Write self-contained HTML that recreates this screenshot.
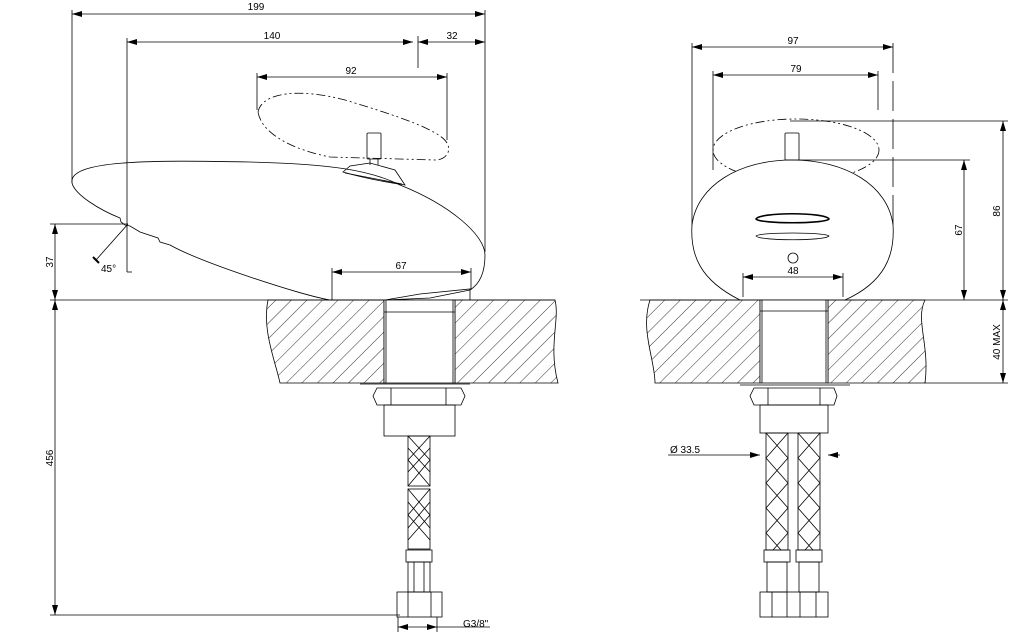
<!DOCTYPE html>
<html><head><meta charset="utf-8"><style>
html,body{margin:0;padding:0;background:#fff;}
svg{display:block;font-family:"Liberation Sans",sans-serif;}
text{font-size:10px;fill:#000;}
</style></head><body>
<svg width="1021" height="635" viewBox="0 0 1021 635" xmlns="http://www.w3.org/2000/svg">
<defs>
<pattern id="h" patternUnits="userSpaceOnUse" width="11" height="11" patternTransform="rotate(45)">
<line x1="0" y1="0" x2="0" y2="11" stroke="#000" stroke-width="0.8"/>
</pattern>
<marker id="a" viewBox="0 0 10 6" refX="10" refY="3" markerWidth="10" markerHeight="6" orient="auto-start-reverse" markerUnits="userSpaceOnUse"><path d="M0,0 L10,3 L0,6z" fill="#000"/></marker>
</defs>
<g stroke="#000" stroke-width="0.8" fill="none">
<!-- LEFT VIEW dims -->
<line x1="72" y1="14" x2="485" y2="14" marker-start="url(#a)" marker-end="url(#a)"/>
<line x1="72" y1="10" x2="72" y2="183"/>
<line x1="485" y1="10" x2="485" y2="252"/>
<line x1="127" y1="42" x2="413" y2="42" marker-start="url(#a)" marker-end="url(#a)"/>
<line x1="418" y1="42" x2="485" y2="42" marker-start="url(#a)" marker-end="url(#a)"/>
<line x1="418" y1="36" x2="418" y2="68"/>
<line x1="127" y1="38" x2="127" y2="272"/>
<line x1="127" y1="272" x2="132" y2="272"/>
<line x1="257" y1="77" x2="447" y2="77" marker-start="url(#a)" marker-end="url(#a)"/>
<line x1="257" y1="73" x2="257" y2="110"/>
<line x1="447" y1="73" x2="447" y2="140"/>
<path d="M258,112 C262,92 300,88 345,100 C395,115 440,130 447,143 C452,152 445,160 435,160 L330,157 C295,150 262,135 258,112Z" stroke-dasharray="9,3,2,3,2,3"/>
<!-- body -->
<path d="M72,183 C68,160 150,160 250,162 C330,164 370,170 400,185 C450,205 485,235 485,255 C485,275 478,285 470,290 L430,298 L385,300 L330,300 C300,295 200,262 170,245 L160,242 L158,238 L140,232 L130,226 L125,225 L121,222 L120,218 C100,210 75,195 72,183Z"/>
<path d="M343,172 L350,166 L370,163 L395,170 L405,185 C385,182 360,177 343,172Z"/>
<line x1="345" y1="173" x2="402" y2="184"/>
<rect x="367" y="133" width="14" height="26" rx="1"/>
<line x1="370" y1="159" x2="370" y2="165"/><line x1="378" y1="159" x2="378" y2="165"/>
<path d="M385,300 L420,294 L470,289 L470,300"/>
<line x1="55" y1="224" x2="55" y2="300" marker-start="url(#a)" marker-end="url(#a)"/>
<line x1="50" y1="224" x2="128" y2="224"/>
<line x1="128" y1="224" x2="96" y2="260"/>
<line x1="93" y1="257" x2="99" y2="263" stroke-width="2"/>
<line x1="332" y1="272" x2="471" y2="272" marker-start="url(#a)" marker-end="url(#a)"/>
<line x1="332" y1="268" x2="332" y2="300"/><line x1="471" y1="268" x2="471" y2="290"/>
<line x1="50" y1="300" x2="555" y2="300"/>
<line x1="55" y1="300" x2="55" y2="615" marker-start="url(#a)" marker-end="url(#a)"/>
<line x1="50" y1="615" x2="400" y2="615"/>
<!-- countertop left -->
<path d="M268,300 L384,300 L384,383 L280,383 C275,360 262,330 268,300Z" fill="url(#h)"/>
<path d="M455,300 L555,300 C560,320 548,345 558,383 L455,383Z" fill="url(#h)"/>
<rect x="384" y="300" width="71" height="83" fill="#fff"/>
<line x1="386" y1="300" x2="386" y2="383"/><line x1="453" y1="300" x2="453" y2="383"/>
<line x1="384" y1="312" x2="455" y2="312"/>
<line x1="360" y1="384" x2="470" y2="384"/>
<path d="M377,388 L461,388 L465,396 L461,405 L377,405 L373,396Z"/>
<line x1="391" y1="388" x2="391" y2="405"/><line x1="446" y1="388" x2="446" y2="405"/>
<rect x="384" y="405" width="71" height="31"/>
<g>
<rect x="408" y="436" width="22" height="50"/><rect x="408" y="489" width="22" height="60"/>
<path d="M408,436 L430,460 L408,486 M430,436 L408,460 L430,486 M408,448 L430,472 M430,448 L408,472 M408,489 L430,515 L408,540 M430,489 L408,515 L430,540 M408,502 L430,528 M430,502 L408,528"/>
</g>
<rect x="406" y="550" width="26" height="12"/>
<rect x="408" y="562" width="22" height="30"/>
<line x1="414" y1="562" x2="414" y2="592"/><line x1="424" y1="562" x2="424" y2="592"/>
<rect x="397" y="592" width="45" height="25"/>
<line x1="408" y1="592" x2="408" y2="617"/><line x1="431" y1="592" x2="431" y2="617"/>
<line x1="398" y1="617" x2="398" y2="632"/><line x1="437" y1="617" x2="437" y2="632"/>
<line x1="398" y1="627" x2="437" y2="627" marker-start="url(#a)" marker-end="url(#a)"/>
<line x1="437" y1="627" x2="490" y2="627"/>
<!-- RIGHT VIEW -->
<line x1="692" y1="47" x2="893" y2="47" marker-start="url(#a)" marker-end="url(#a)"/>
<line x1="692" y1="43" x2="692" y2="230"/>
<line x1="893" y1="43" x2="893" y2="230" stroke-dasharray="30,8"/>
<line x1="713" y1="75" x2="878" y2="75" marker-start="url(#a)" marker-end="url(#a)"/>
<line x1="713" y1="71" x2="713" y2="170"/><line x1="878" y1="71" x2="878" y2="110"/>
<ellipse cx="796" cy="150" rx="83" ry="31" stroke-dasharray="9,3,2,3,2,3"/>
<path d="M740,300 C700,280 690,255 692,225 C697,185 740,160 792,160 C845,160 888,185 893,225 C895,255 885,282 845,300" fill="#fff"/>
<rect x="785" y="133" width="14" height="27" rx="1"/>
<path d="M756,219 C760,212 825,212 829,219 C825,224 760,224 756,219Z" stroke-width="1.6"/>
<path d="M756,236 C760,232 825,232 829,236 C825,241 760,241 756,236Z"/>
<circle cx="793" cy="258" r="5"/>
<line x1="743" y1="277" x2="843" y2="277" marker-start="url(#a)" marker-end="url(#a)"/>
<line x1="743" y1="273" x2="743" y2="297"/><line x1="843" y1="273" x2="843" y2="297"/>
<line x1="799" y1="160" x2="970" y2="160"/>
<line x1="790" y1="121" x2="1008" y2="121"/>
<line x1="964" y1="160" x2="964" y2="300" marker-start="url(#a)" marker-end="url(#a)"/>
<line x1="1003" y1="121" x2="1003" y2="300" marker-start="url(#a)" marker-end="url(#a)"/>
<line x1="1003" y1="300" x2="1003" y2="383" marker-start="url(#a)" marker-end="url(#a)"/>
<line x1="640" y1="300" x2="1008" y2="300"/>
<line x1="925" y1="383" x2="1008" y2="383"/>
<path d="M650,300 L760,300 L760,383 L655,383 C655,360 640,330 650,300Z" fill="url(#h)"/>
<path d="M828,300 L925,300 C915,320 930,345 925,383 L828,383Z" fill="url(#h)"/>
<rect x="760" y="300" width="68" height="83" fill="#fff"/>
<line x1="762" y1="300" x2="762" y2="383"/><line x1="826" y1="300" x2="826" y2="383"/>
<line x1="760" y1="311" x2="828" y2="311"/>
<line x1="740" y1="385" x2="850" y2="385"/>
<path d="M754,388 L834,388 L837,396 L834,405 L754,405 L750,396Z"/>
<line x1="768" y1="388" x2="768" y2="405"/><line x1="820" y1="388" x2="820" y2="405"/>
<rect x="760" y="405" width="68" height="28"/>
<g>
<rect x="766" y="433" width="22" height="117"/><rect x="798" y="433" width="22" height="117"/>
<path d="M766,433 L788,458 L766,483 L788,508 L766,533 L781,550 M788,433 L766,458 L788,483 L766,508 L788,533 L773,550 M798,433 L820,458 L798,483 L820,508 L798,533 L813,550 M820,433 L798,458 L820,483 L798,508 L820,533 L805,550"/>
</g>
<rect x="764" y="550" width="26" height="12"/><rect x="796" y="550" width="26" height="12"/>
<rect x="767" y="562" width="20" height="30"/><rect x="799" y="562" width="20" height="30"/>
<rect x="760" y="592" width="68" height="25"/>
<line x1="772" y1="592" x2="772" y2="617"/><line x1="787" y1="592" x2="787" y2="617"/><line x1="800" y1="592" x2="800" y2="617"/><line x1="816" y1="592" x2="816" y2="617"/>
<line x1="668" y1="455" x2="760" y2="455" marker-end="url(#a)"/>
<line x1="840" y1="455" x2="828" y2="455" marker-end="url(#a)"/>
</g>
<text x="256" y="10" text-anchor="middle">199</text>
<text x="272" y="39" text-anchor="middle">140</text>
<text x="452" y="39" text-anchor="middle">32</text>
<text x="351" y="74" text-anchor="middle">92</text>
<text x="401" y="269" text-anchor="middle">67</text>
<text x="101" y="272">45°</text>
<text transform="translate(53,262) rotate(-90)" text-anchor="middle">37</text>
<text transform="translate(53,458) rotate(-90)" text-anchor="middle">456</text>
<text x="463" y="627">G3/8"</text>
<text x="793" y="44" text-anchor="middle">97</text>
<text x="796" y="72" text-anchor="middle">79</text>
<text x="793" y="274" text-anchor="middle">48</text>
<text transform="translate(962,230) rotate(-90)" text-anchor="middle">67</text>
<text transform="translate(1000,211) rotate(-90)" text-anchor="middle">86</text>
<text transform="translate(1000,342) rotate(-90)" text-anchor="middle">40 MAX</text>
<text x="670" y="453">Ø 33.5</text>
</svg>
</body></html>
